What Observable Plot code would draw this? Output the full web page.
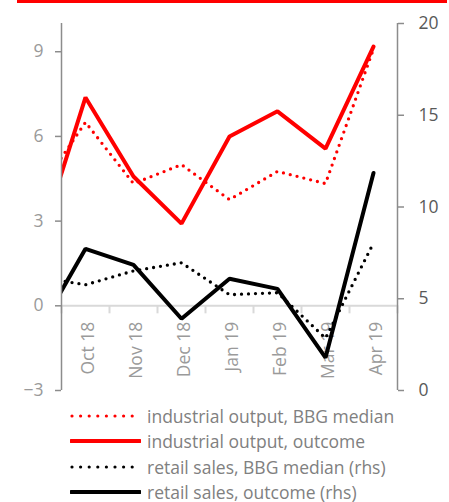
<!DOCTYPE html>
<html><head><meta charset="utf-8">
<script src="https://cdn.jsdelivr.net/npm/d3@7"></script>
<script src="https://cdn.jsdelivr.net/npm/@observablehq/plot@0.6"></script>
<style>
html,body{margin:0;padding:0;background:#fff;}
body{width:449px;height:502px;overflow:hidden;position:relative;font-family:"Open Sans",sans-serif;}
#bar{position:absolute;left:17px;top:0;width:430px;height:3px;background:#ff0000;}
#chart{position:absolute;left:0;top:0;}
#legend{position:absolute;left:0;top:403px;}
.item{display:flex;align-items:center;height:25.5px;padding-left:70px;}
.item span{margin-left:6px;color:#808080;font-size:17.5px;white-space:nowrap;}
</style></head>
<body>
<div id="bar"></div>
<div id="chart"></div>
<div id="legend"></div>
<script>
// categories (first one, Sep 18, lies left of the visible range and is clipped)
const months = ["Sep 18","Oct 18","Nov 18","Dec 18","Jan 19","Feb 19","Mar 19","Apr 19"];
// left axis series
const ioMedian  = [4.0, 6.5, 4.33, 5.0, 3.76, 4.76, 4.33, 9.1];
const ioOutcome = [2.0, 7.38, 4.58, 2.91, 6.0, 6.89, 5.57, 9.18];
// right axis series (rhs)
const rsMedian  = [6.2, 5.76, 6.52, 6.96, 5.22, 5.33, 2.85, 8.04];
const rsOutcome = [3.15, 7.72, 6.85, 3.91, 6.09, 5.54, 1.79, 11.85];
// tick labels
const leftTicks = [-3, 0, 3, 6, 9];
const rightTicks = [0, 5, 10, 15, 20];
const seriesNames = ["industrial output, BBG median","industrial output, outcome","retail sales, BBG median (rhs)","retail sales, outcome (rhs)"];

const leftDomain = [-3, 10], rightDomain = [0, 20];
const toL = v => leftDomain[0] + (v - rightDomain[0]) * (leftDomain[1]-leftDomain[0])/(rightDomain[1]-rightDomain[0]);
const fromL = d => rightDomain[0] + (d - leftDomain[0]) * (rightDomain[1]-rightDomain[0])/(leftDomain[1]-leftDomain[0]);

const rows = (vals, conv) => vals.map((v,i)=>({i: i-1, v: conv ? toL(v) : v}));
const labels = months.map((m,i)=>({i:i-1, m})).filter(d=>d.i>=0);
const bounds = d3.range(-0.5, months.length-1, 1);

const red = "#ff0000", black = "#000000";
const dotted = {strokeDasharray:"0 7", strokeLinecap:"round", strokeWidth:3.3};

const chart = Plot.plot({
  width:449, height:400,
  marginTop:23, marginBottom:10, marginLeft:61, marginRight:52,
  x:{domain:[-0.5, months.length-1.5], axis:null},
  y:{domain:leftDomain, axis:null},
  style:{fontFamily:"Open Sans, sans-serif", background:"transparent"},
  marks:[
    Plot.ruleY([0], {stroke:"#d9d9d9", strokeWidth:2}),
    Plot.ruleX(bounds, {y1:0, y2:0, insetBottom:-8, stroke:"#d9d9d9", strokeWidth:2}),
    Plot.text(labels, {x:"i", y:0, text:"m", rotate:-90, textAnchor:"end", lineAnchor:"middle", dy:16, dx:3, fill:"#9a9a9a", fontSize:17.5}),
    Plot.line(rows(ioMedian), {x:"i", y:"v", stroke:red, ...dotted, clip:true}),
    Plot.line(rows(ioOutcome), {x:"i", y:"v", stroke:red, strokeWidth:4, strokeLinejoin:"miter", clip:true}),
    Plot.line(rows(rsMedian, true), {x:"i", y:"v", stroke:black, ...dotted, clip:true}),
    Plot.line(rows(rsOutcome, true), {x:"i", y:"v", stroke:black, strokeWidth:4, strokeLinejoin:"miter", clip:true}),
    Plot.ruleX([-0.5, months.length-1.5], {stroke:"#8c8c8c", strokeWidth:1.5}),
    Plot.axisY({anchor:"left", ticks:leftTicks, tickSize:6, tickPadding:12, stroke:"#8c8c8c", fill:"#9a9a9a", fontSize:17.5, label:null, strokeWidth:1.5}),
    Plot.axisY({anchor:"right", ticks:rightTicks.map(toL), tickFormat:d=>String(Math.round(fromL(d))), tickSize:6, tickPadding:15, stroke:"#8c8c8c", fill:"#595959", fontSize:17.5, label:null, strokeWidth:1.5})
  ]
});
document.getElementById("chart").appendChild(chart);

// legend
const legendStyles = [
  {color:red, dash:true},{color:red, dash:false},{color:black, dash:true},{color:black, dash:false}
];
const leg = document.getElementById("legend");
seriesNames.forEach((name, k) => {
  const s = legendStyles[k];
  const div = document.createElement("div");
  div.className = "item";
  const line = s.dash
    ? `<line x1="2" y1="5" x2="64" y2="5" stroke="${s.color}" stroke-width="3.2" stroke-linecap="round" stroke-dasharray="0 8.6"/>`
    : `<line x1="1" y1="5" x2="70" y2="5" stroke="${s.color}" stroke-width="4" stroke-linecap="round"/>`;
  div.innerHTML = `<svg width="71" height="10">${line}</svg><span>${name}</span>`;
  leg.appendChild(div);
});
</script>
</body></html>
